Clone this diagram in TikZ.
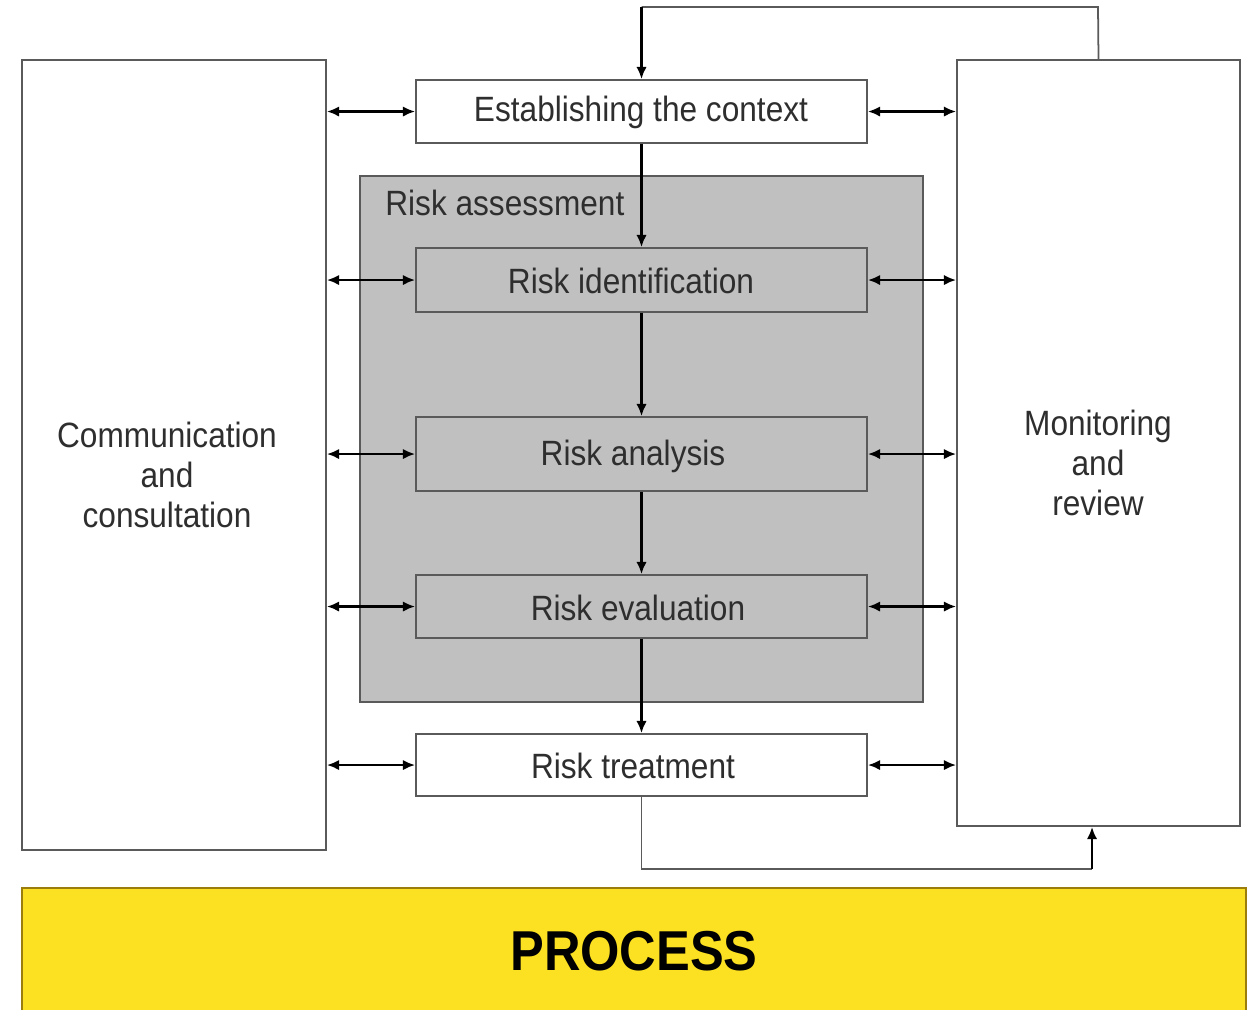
\documentclass[tikz,border=0pt]{standalone}
\usepackage{fontspec}
\setmainfont[FakeStretch=0.9]{Liberation Sans}
\usetikzlibrary{arrows.meta,fit,calc}
\definecolor{boxline}{HTML}{5A5A5A}
\definecolor{txt}{HTML}{2E2E2E}
\definecolor{grayfill}{HTML}{C0C0C0}
\definecolor{yel}{HTML}{FCE022}
\definecolor{yelline}{HTML}{9A7D0A}
\begin{document}
\begin{tikzpicture}[x=0.02cm,y=-0.02cm,
  box/.style={draw=boxline,line width=1pt,inner sep=0pt},
  stage/.style={box,fill=white},
  gstage/.style={box,fill=grayfill},
  lbl/.style={text=txt,inner sep=0pt,font=\fontsize{20}{24}\selectfont},
  sidelbl/.style={text=txt,align=center,font=\fontsize{20}{22.7}\selectfont},
  arr/.style={line width=1.5pt,-{Latex[length=7pt,width=6pt]}},
  dbl/.style={line width=1.5pt,{Latex[length=7pt,width=6pt]}-{Latex[length=7pt,width=6pt]}},
  loopline/.style={draw=boxline,line width=1pt}]
\useasboundingbox (0,0) rectangle (1251,1009);
% side boxes
\node[box,fill=white,fit={(22,60) (326,850)}] (comm) {};
\node[sidelbl] (commt) at (167,475) {Communication\\and\\consultation};
\node[box,fill=white,fit={(957,60) (1240,826)}] (mon) {};
\node[sidelbl] (mont) at (1098,463) {Monitoring\\and\\review};
% risk assessment
\node[box,fill=grayfill,fit={(360,176) (923,702)}] (ra) {};
\node[lbl,anchor=west] (ralabel) at (385,203) {Risk assessment};
% stages
\node[stage,fit={(416,80) (867,143)}] (ctx) {};
\node[lbl] (ctxt) at (641,112) {Establishing the context};
\node[gstage,fit={(416,248) (867,312)}] (ident) {};
\node[lbl] (identt) at (631,281) {Risk identification};
\node[gstage,fit={(416,417) (867,491)}] (anal) {};
\node[lbl] (analt) at (633,456) {Risk analysis};
\node[gstage,fit={(416,575) (867,638)}] (eval) {};
\node[lbl] (evalt) at (638,608) {Risk evaluation};
\node[stage,fit={(416,734) (867,796)}] (treat) {};
\node[lbl] (treatt) at (633,766) {Risk treatment};
% vertical flow
\draw[arr] (ctx.south) -- (ident.north);
\draw[arr] (ident.south) -- (anal.north);
\draw[arr] (anal.south) -- (eval.north);
\draw[arr] (eval.south) -- (treat.north);
% horizontal double arrows
\foreach \n in {ctx,ident,anal,eval,treat}{
  \draw[dbl] (\n.west -| comm.east) -- (\n.west);
  \draw[dbl] (\n.east) -- (\n.east -| mon.west);
}
% top loop
\coordinate (topc) at (1098,7);
\draw[loopline] (mon.north) -- (topc) -- (topc -| ctx.north);
\draw[arr] (topc -| ctx.north) -- (ctx.north);
% bottom loop
\coordinate (botc) at (1092,869);
\draw[loopline] (treat.south) |- (botc);
\draw[arr] (botc) -- (botc |- mon.south);
% process banner
\node[draw=yelline,line width=1pt,fill=yel,inner sep=0pt,fit={(22,888) (1246,1015)}] (proc) {};
\node[font=\fontsize{32}{36}\selectfont\bfseries] (proct) at (634,951) {PROCESS};
\end{tikzpicture}
\end{document}
